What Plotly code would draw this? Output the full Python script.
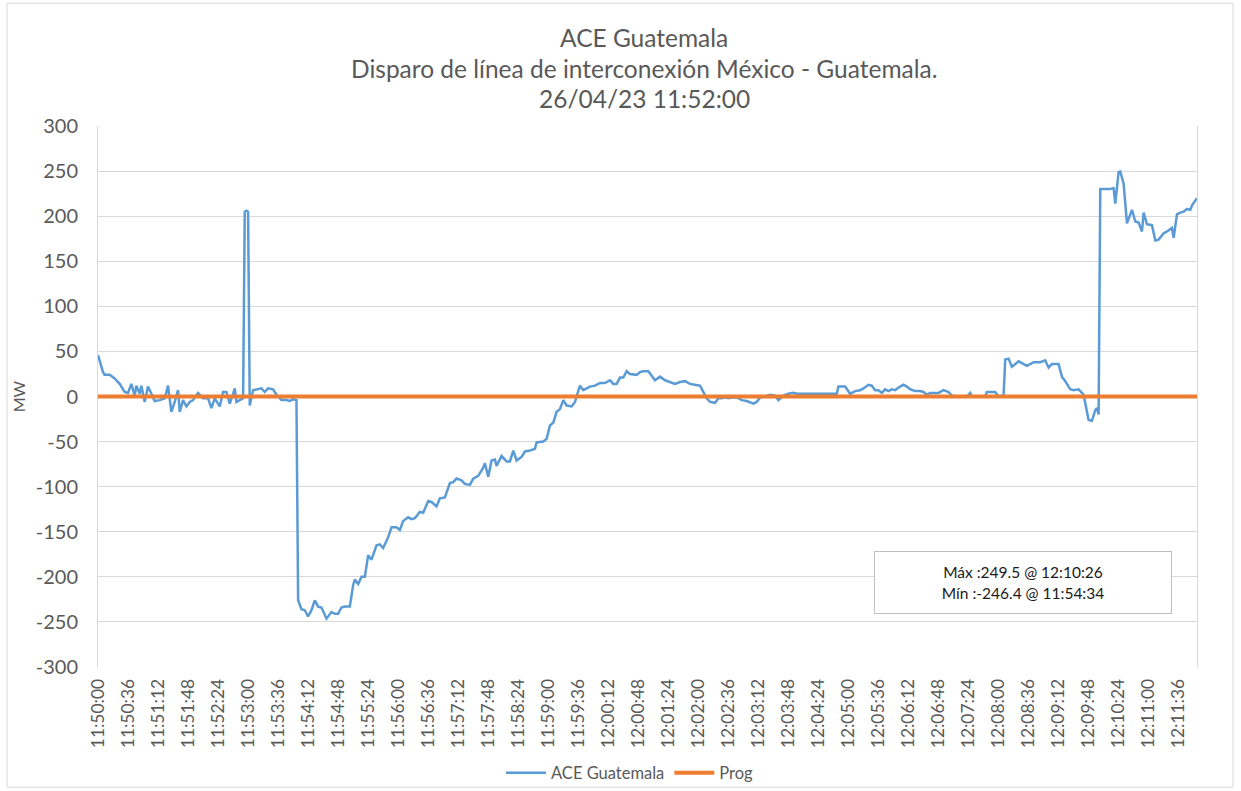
import plotly.graph_objects as go
from datetime import datetime, timedelta

# Seconds after 11:50:00 (26/04/2023) and ACE Guatemala values (MW)
t_seconds = [
    0, 6, 8, 14, 20, 26, 32, 36, 40, 44, 46, 50, 52, 56, 60, 64, 68, 74, 80, 84,
    88, 92, 96, 98, 102, 106, 110, 114, 120, 126, 132, 136, 140, 146, 150, 154, 158, 162, 164, 166,
    170, 174, 176, 178, 180, 182, 186, 192, 196, 200, 204, 210, 214, 220, 226, 230, 234, 238, 240, 244,
    248, 252, 256, 260, 264, 268, 274, 280, 284, 288, 292, 296, 302, 306, 308, 312, 316, 320, 324, 328,
    334, 338, 342, 348, 352, 358, 362, 366, 372, 376, 380, 386, 390, 396, 400, 406, 410, 416, 422, 426,
    430, 436, 440, 446, 450, 456, 462, 464, 468, 472, 476, 478, 484, 490, 494, 498, 502, 508, 512, 518,
    524, 526, 534, 538, 542, 546, 550, 554, 558, 562, 568, 572, 578, 582, 590, 596, 602, 608, 614, 618,
    622, 626, 630, 634, 638, 646, 650, 654, 660, 668, 674, 680, 686, 692, 698, 704, 710, 716, 722, 730,
    734, 740, 744, 748, 752, 756, 760, 766, 772, 778, 786, 790, 794, 800, 806, 812, 816, 822, 828, 834,
    838, 886, 888, 896, 902, 908, 914, 918, 924, 928, 932, 936, 940, 944, 948, 952, 956, 960, 966, 970,
    974, 980, 986, 990, 994, 998, 1008, 1014, 1020, 1024, 1030, 1042, 1046, 1048, 1064, 1066, 1076, 1080, 1086, 1088,
    1092, 1096, 1104, 1114, 1122, 1130, 1136, 1140, 1144, 1152, 1156, 1160, 1166, 1170, 1176, 1182, 1184, 1188, 1192, 1196,
    1198, 1200, 1202, 1212, 1218, 1220, 1224, 1226, 1230, 1234, 1240, 1244, 1248, 1252, 1254, 1258, 1264, 1268, 1272, 1278,
    1282, 1288, 1290, 1294, 1298, 1302, 1306, 1310, 1312, 1318,
]
ace_values = [
    46, 27, 24, 24, 20, 14, 5, 4, 14, 1, 12, 3, 12, -6, 11, 3, -5, -4, -2, 12,
    -17, -6, 7, -17, -4, -11, -6, -4, 4, -2, -2, -13, -2, -11, 5, 5, -8, 3, 9, -6,
    -4, -2, 205, 206, 205, -10, 7, 8, 9, 5, 9, 8, 2, -4, -4, -5, -3, -4, -226, -236,
    -237, -244, -237, -226, -233, -234, -246.4, -239, -241, -241, -234, -233, -233, -209, -203, -208, -200, -200, -176, -181,
    -165, -164, -168, -156, -145, -145, -148, -138, -134, -136, -135, -128, -129, -116, -117, -122, -113, -112, -96, -95,
    -91, -93, -97, -98, -91, -88, -79, -74, -89, -71, -70, -77, -66, -72, -72, -60, -71, -67, -61, -60,
    -58, -51, -50, -47, -32, -29, -17, -14, -4, -10, -11, -6, 12, 7, 11, 12, 15, 15, 18, 14,
    14, 21, 21, 28, 25, 24, 27, 28, 28, 18, 22, 18, 16, 14, 16, 17, 14, 13, 12, -2,
    -6, -7, -2, -2, -1, -2, -1, -1, -4, -5, -8, -6, -1, 0, 2, 1, -4, 1, 3, 4,
    3, 3, 11, 11, 3, 6, 7, 9, 13, 12, 7, 7, 4, 8, 6, 8, 7, 10, 13, 11,
    8, 6, 6, 5, 2, 4, 4, 7, 5, 1, 0, 0, 4, 0, 0, 5, 5, 0, 1, 41,
    42, 33, 39, 34, 38, 38, 40, 32, 36, 36, 22, 17, 8, 7, 8, 2, -8, -26, -27, -15,
    -13, -20, 230, 230, 231, 214, 249, 249.5, 236, 192, 207, 194, 193, 183, 204, 191, 190, 173, 174, 181,
    183, 187, 176, 202, 204, 205, 208, 207, 212, 220,
]
prog_seconds = [0, 1318]
prog_values = [0, 0]

tick_seconds = list(range(0, 1297, 36))
y_ticks = [-300, -250, -200, -150, -100, -50, 0, 50, 100, 150, 200, 250, 300]

base = datetime(2023, 4, 26, 11, 50, 0)
x_ace = [base + timedelta(seconds=s) for s in t_seconds]
x_prog = [base + timedelta(seconds=s) for s in prog_seconds]
tick_vals = [base + timedelta(seconds=s) for s in tick_seconds]
tick_text = [v.strftime("%H:%M:%S") for v in tick_vals]

FONT = "Lato"
GREY = "#595959"
CLEAR = "rgba(0,0,0,0)"

fig = go.Figure()
fig.add_trace(go.Scatter(x=x_ace, y=ace_values, mode="lines", name="ACE Guatemala",
                         line=dict(color="#5B9BD5", width=2.5)))
fig.add_trace(go.Scatter(x=x_prog, y=prog_values, mode="lines", name="Prog",
                         line=dict(color="#ED7D31", width=4)))

fig.update_layout(
    width=1241, height=791,
    margin=dict(l=98, r=44, t=126, b=124),
    paper_bgcolor="white", plot_bgcolor="white",
    font=dict(family=FONT, color=GREY),
    showlegend=True,
    legend=dict(orientation="h", xref="container", yref="container",
                x=630 / 1241, xanchor="center", y=1 - 773 / 791, yanchor="middle",
                font=dict(size=16.5, color=GREY), itemwidth=40, bgcolor=CLEAR),
    xaxis=dict(range=[x_prog[0], x_prog[-1]], tickvals=tick_vals, ticktext=tick_text,
               tickangle=-90, tickfont=dict(size=17.4, color=GREY), showgrid=False,
               showline=False, zeroline=False, ticks="outside", ticklen=4, tickcolor=CLEAR,
               automargin=False),
    yaxis=dict(range=[-300, 300], tickvals=y_ticks, ticktext=[str(v) for v in y_ticks],
               showgrid=True, gridcolor="#D9D9D9", gridwidth=1, zeroline=False, showline=True,
               linecolor="#D9D9D9", mirror=True, tickfont=dict(size=20, color=GREY),
               ticks="outside", ticklen=15, tickcolor=CLEAR, automargin=False),
    shapes=[dict(type="rect", xref="paper", yref="paper", x0=-0.0828, x1=1.0328, y0=-0.222, y1=1.227,
                 line=dict(color="#D9D9D9", width=1))],
)

fig.add_annotation(text="MW", xref="paper", yref="paper", x=-0.072, y=0.5, textangle=-90,
                   xanchor="center", yanchor="middle", showarrow=False,
                   font=dict(family=FONT, size=16, color=GREY))

titles = ["ACE Guatemala", "Disparo de línea de interconexión México - Guatemala.", "26/04/23 11:52:00"]
for i, txt in enumerate(titles):
    fig.add_annotation(text=txt, xref="paper", yref="paper", x=0.497, y=1.1627 - i * 0.0555,
                       xanchor="center", yanchor="middle", showarrow=False,
                       font=dict(family=FONT, size=24.5, color=GREY))

fig.add_annotation(text="Máx :249.5 @ 12:10:26<br>Mín :-246.4 @ 11:54:34",
                   xref="paper", yref="paper", x=0.8417, y=0.156, xanchor="center", yanchor="middle",
                   showarrow=False, align="center", width=288, height=53, borderpad=4,
                   bgcolor="white", bordercolor="#BFBFBF", borderwidth=1,
                   font=dict(family=FONT, size=15.5, color="#1a1a1a"))

fig.write_html("out.html", config={"displayModeBar": False},
               post_script="document.body.style.margin='0px';")
